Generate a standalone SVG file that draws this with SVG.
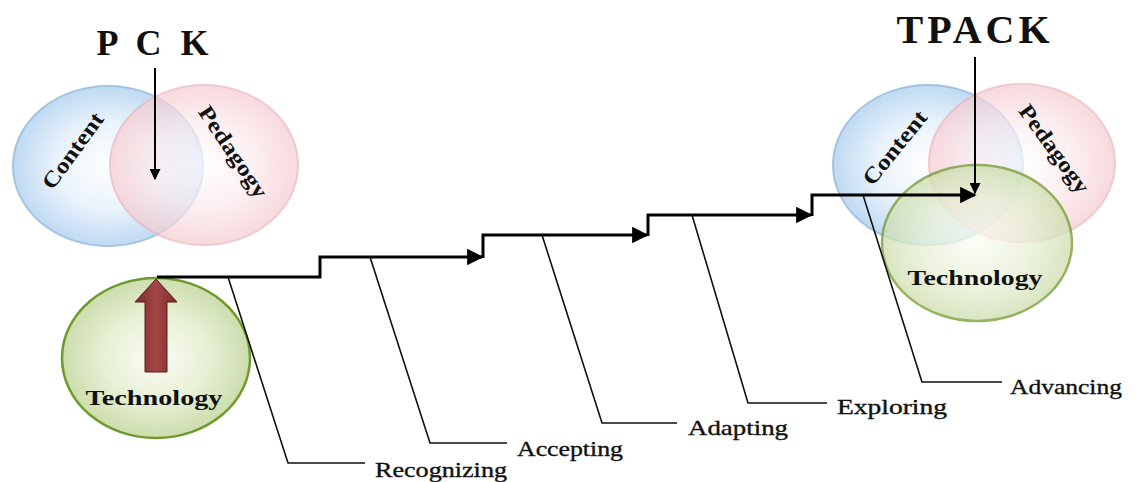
<svg xmlns="http://www.w3.org/2000/svg" width="1139" height="482" viewBox="0 0 1139 482">
  <defs>
    <radialGradient id="gBlue" cx="0.5" cy="0.5" r="0.55">
      <stop offset="0" stop-color="#ffffff"/>
      <stop offset="0.5" stop-color="#e6f1fb"/>
      <stop offset="1" stop-color="#a9cdef"/>
    </radialGradient>
    <radialGradient id="gPink" cx="0.5" cy="0.5" r="0.55">
      <stop offset="0" stop-color="#ffffff"/>
      <stop offset="0.5" stop-color="#fbe9eb"/>
      <stop offset="1" stop-color="#f4c3c9"/>
    </radialGradient>
    <radialGradient id="gGreen" cx="0.5" cy="0.5" r="0.55">
      <stop offset="0" stop-color="#fbfdf4"/>
      <stop offset="0.5" stop-color="#e8f0d6"/>
      <stop offset="1" stop-color="#c6d9a3"/>
    </radialGradient>
    <linearGradient id="gRed" x1="0" y1="0" x2="1" y2="0">
      <stop offset="0" stop-color="#7a2b2b"/>
      <stop offset="0.5" stop-color="#a34646"/>
      <stop offset="1" stop-color="#7a2b2b"/>
    </linearGradient>
    <marker id="ah" viewBox="0 0 10 10" refX="9" refY="5" markerWidth="5.5" markerHeight="5.5" orient="auto" markerUnits="strokeWidth">
      <path d="M0,0 L10,5 L0,10 z" fill="#000"/>
    </marker>
  </defs>
  <style>
    .blue { fill: url(#gBlue); stroke: #93b9df; stroke-width: 2; }
    .pink { fill: url(#gPink); stroke: #ebb3ba; stroke-width: 2; }
    .green { fill: url(#gGreen); stroke: #6f9a2c; stroke-width: 2.5; }
    .title { font-family: "Liberation Serif", "Times New Roman", serif; font-weight: bold; fill: #111; }
    .lbl { font-family: "Liberation Serif", "Times New Roman", serif; font-weight: bold; font-size: 22px; fill: #111; }
    .stage { font-family: "Liberation Serif", "Times New Roman", serif; font-size: 21px; fill: #111; stroke: #111; stroke-width: 0.35; }
    .step { fill: none; stroke: #000; stroke-width: 3; }
    .lead { fill: none; stroke: #111; stroke-width: 1.6; }
    .arr { fill: none; stroke: #000; stroke-width: 2; }
  </style>
  <rect width="1139" height="482" fill="#ffffff"/>

  <!-- PCK Venn -->
  <g id="pck">
    <text class="title" x="155" y="55" font-size="36" text-anchor="middle" letter-spacing="5">P C K</text>
    <ellipse class="blue" cx="108" cy="166" rx="95" ry="80" opacity="0.85"/>
    <ellipse class="pink" cx="204" cy="165" rx="94" ry="80" opacity="0.7"/>
    <text class="lbl" transform="translate(73,151) rotate(-54)" x="0" y="7" text-anchor="middle" textLength="89" lengthAdjust="spacingAndGlyphs">Content</text>
    <text class="lbl" transform="translate(233,152) rotate(56)" x="0" y="7" text-anchor="middle" textLength="106" lengthAdjust="spacingAndGlyphs">Pedagogy</text>
  </g>

  <!-- Left Technology -->
  <g id="technology-left">
    <ellipse class="green" cx="156" cy="358" rx="94" ry="80"/>
    <polygon points="145,372 167,372 167,302 177,302 156,279 135,302 145,302" fill="url(#gRed)" stroke="#5e1f1f" stroke-width="1"/>
    <text class="lbl" x="154" y="405" text-anchor="middle" textLength="137" lengthAdjust="spacingAndGlyphs">Technology</text>
  </g>

  <!-- TPACK Venn -->
  <g id="tpack">
    <text class="title" x="975" y="43" font-size="40" text-anchor="middle" letter-spacing="4">TPACK</text>
    <ellipse class="blue" cx="928" cy="165" rx="95" ry="80" opacity="0.85"/>
    <ellipse class="pink" cx="1022" cy="163" rx="93" ry="79" opacity="0.7"/>
    <ellipse class="green" cx="977" cy="243" rx="95" ry="78" opacity="0.75"/>
    <text class="lbl" transform="translate(895,148) rotate(-51)" x="0" y="7" text-anchor="middle" textLength="89" lengthAdjust="spacingAndGlyphs">Content</text>
    <text class="lbl" transform="translate(1054,149) rotate(54)" x="0" y="7" text-anchor="middle" textLength="104" lengthAdjust="spacingAndGlyphs">Pedagogy</text>
    <text class="lbl" x="975" y="285" text-anchor="middle" textLength="135" lengthAdjust="spacingAndGlyphs">Technology</text>
  </g>

  <!-- Stage labels -->
  <g id="recognizing"><text class="stage" x="375" y="477" textLength="132" lengthAdjust="spacingAndGlyphs">Recognizing</text></g>
  <g id="accepting"><text class="stage" x="517" y="456" textLength="106" lengthAdjust="spacingAndGlyphs">Accepting</text></g>
  <g id="adapting"><text class="stage" x="688" y="435" textLength="100" lengthAdjust="spacingAndGlyphs">Adapting</text></g>
  <g id="exploring"><text class="stage" x="837" y="414" textLength="110" lengthAdjust="spacingAndGlyphs">Exploring</text></g>
  <g id="advancing"><text class="stage" x="1010" y="394" textLength="112" lengthAdjust="spacingAndGlyphs">Advancing</text></g>

  <!-- Connectors -->
  <g id="connectors">
    <line class="arr" x1="155" y1="68" x2="155" y2="179" marker-end="url(#ah)" stroke-width="2.2"/>
    <line class="arr" x1="975" y1="57" x2="975" y2="193" marker-end="url(#ah)" stroke-width="2.2"/>

    <polyline class="step" points="157,277 320,277 320,257 482,257" marker-end="url(#ah)"/>
    <polyline class="step" points="483,258 483,235 647,235" marker-end="url(#ah)"/>
    <polyline class="step" points="648,236 648,215 811,215" marker-end="url(#ah)"/>
    <polyline class="step" points="812,216 812,195 975,195" marker-end="url(#ah)"/>

    <polyline class="lead" points="228,277 288,463 365,463"/>
    <polyline class="lead" points="370,257 430,443 507,443"/>
    <polyline class="lead" points="542,235 602,423 677,423"/>
    <polyline class="lead" points="692,215 748,403 827,403"/>
    <polyline class="lead" points="863,195 922,382 1002,382"/>
  </g>
</svg>
